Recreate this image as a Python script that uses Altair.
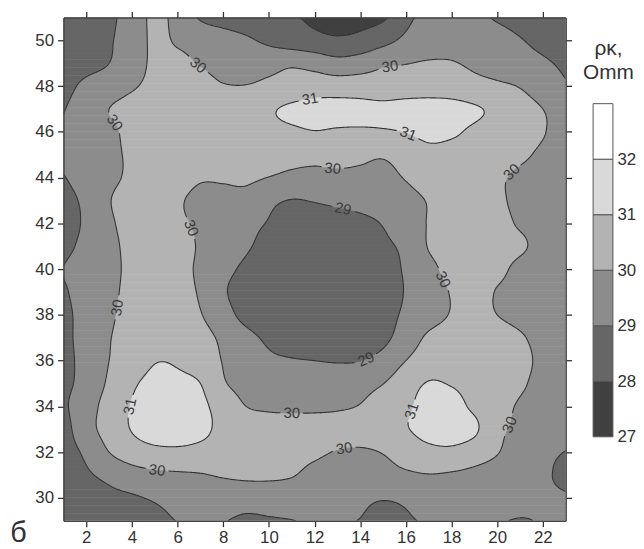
import numpy as np
import pandas as pd
import altair as alt

# ---------------- data: field values (x = 1..23, one row per y) ----------------
x_nodes = list(range(1, 24))
y_nodes = list(range(51, 28, -1))

r51 = [28.6, 28.75, 28.85, 29.4, 30.2, 29.7, 28.9, 28.6, 28.4, 28.25, 28.1, 27.8, 27.6, 27.65, 27.85, 28.75, 29.3, 29.4, 29.25, 28.9, 28.7, 28.6, 28.5]
r50 = [28.7, 28.85, 28.92, 29.5, 30.15, 29.9, 29.6, 29.4, 29.15, 28.8, 28.5, 28.3, 28.15, 28.3, 28.7, 29.2, 29.5, 29.7, 29.6, 29.35, 29.05, 28.8, 28.65]
r49 = [28.55, 28.75, 29.0, 29.6, 30.15, 30.2, 29.95, 29.75, 29.65, 29.7, 29.85, 29.65, 29.35, 29.5, 29.85, 29.97, 30.08, 30.05, 29.85, 29.6, 29.35, 29.12, 28.85]
r48 = [28.7, 29.2, 29.5, 29.9, 30.2, 30.3, 30.25, 30.05, 30.03, 30.2, 30.35, 30.5, 30.5, 30.5, 30.45, 30.5, 30.55, 30.5, 30.3, 30.15, 29.95, 29.5, 29.1]
r47 = [28.95, 29.5, 30.0, 30.3, 30.45, 30.5, 30.55, 30.6, 30.7, 30.9, 31.15, 31.3, 31.3, 31.25, 31.2, 31.3, 31.35, 31.3, 31.1, 30.8, 30.4, 30.0, 29.6]
r46 = [29.15, 29.55, 29.8, 30.25, 30.4, 30.5, 30.55, 30.6, 30.65, 30.75, 30.85, 30.97, 30.9, 30.88, 30.92, 31.02, 31.2, 31.12, 30.85, 30.6, 30.35, 30.05, 29.65]
r45 = [29.3, 29.55, 29.85, 30.1, 30.3, 30.45, 30.5, 30.5, 30.45, 30.4, 30.3, 30.25, 30.3, 30.2, 30.1, 30.4, 30.75, 30.7, 30.55, 30.35, 30.15, 29.85, 29.55]
r44 = [28.95, 29.4, 29.8, 30.15, 30.35, 30.4, 30.1, 30.1, 30.15, 29.98, 29.8, 29.75, 29.8, 29.8, 29.75, 30.05, 30.35, 30.45, 30.35, 30.12, 29.85, 29.65, 29.5]
r43 = [28.7, 29.2, 29.95, 30.35, 30.4, 30.12, 29.75, 29.75, 29.7, 29.2, 28.97, 29.05, 29.2, 29.35, 29.5, 29.75, 30.05, 30.35, 30.4, 30.15, 29.8, 29.6, 29.5]
r42 = [28.6, 29.15, 29.85, 30.3, 30.4, 30.15, 29.85, 29.5, 29.25, 28.95, 28.7, 28.6, 28.6, 28.75, 29.05, 29.5, 30.05, 30.35, 30.45, 30.3, 29.9, 29.65, 29.5]
r41 = [28.75, 29.25, 29.75, 30.25, 30.45, 30.35, 29.9, 29.5, 29.1, 28.75, 28.55, 28.45, 28.45, 28.55, 28.85, 29.2, 30.05, 30.35, 30.5, 30.45, 30.15, 29.7, 29.5]
r40 = [29.02, 29.4, 29.75, 30.2, 30.4, 30.25, 29.85, 29.25, 28.85, 28.55, 28.4, 28.35, 28.35, 28.45, 28.7, 29.1, 29.75, 30.25, 30.45, 30.25, 29.75, 29.5, 29.45]
r39 = [28.9, 29.35, 29.78, 30.25, 30.45, 30.3, 29.9, 29.1, 28.7, 28.5, 28.35, 28.3, 28.3, 28.4, 28.65, 29.05, 29.6, 30.05, 30.35, 29.95, 29.7, 29.5, 29.45]
r38 = [28.8, 29.3, 29.85, 30.3, 30.5, 30.45, 30.05, 29.35, 28.75, 28.5, 28.35, 28.3, 28.3, 28.4, 28.7, 29.15, 29.65, 30.05, 30.25, 30.0, 29.75, 29.5, 29.4]
r37 = [28.8, 29.3, 29.95, 30.35, 30.6, 30.65, 30.35, 29.8, 29.25, 28.85, 28.6, 28.5, 28.5, 28.6, 28.8, 29.45, 30.15, 30.35, 30.45, 30.35, 30.1, 29.7, 29.45]
r36 = [28.8, 29.25, 30.0, 30.45, 30.95, 30.9, 30.55, 29.95, 29.45, 29.15, 29.05, 29.0, 28.95, 28.98, 29.3, 30.0, 30.5, 30.55, 30.6, 30.5, 30.25, 29.8, 29.5]
r35 = [28.8, 29.3, 30.15, 30.85, 31.25, 31.2, 31.0, 30.1, 29.7, 29.5, 29.4, 29.4, 29.45, 29.65, 29.98, 30.6, 31.05, 30.95, 30.75, 30.55, 30.15, 29.7, 29.45]
r34 = [28.85, 29.55, 30.4, 31.05, 31.45, 31.45, 31.2, 30.6, 30.0, 29.85, 29.82, 29.82, 29.87, 30.05, 30.5, 30.85, 31.3, 31.25, 30.85, 30.35, 29.9, 29.6, 29.45]
r33 = [28.6, 29.65, 30.35, 31.05, 31.45, 31.5, 31.25, 30.75, 30.6, 30.45, 30.4, 30.4, 30.45, 30.6, 30.8, 30.95, 31.3, 31.4, 31.15, 30.2, 29.85, 29.55, 29.4]
r32 = [28.5, 29.2, 30.0, 30.5, 30.75, 30.8, 30.7, 30.55, 30.4, 30.3, 30.25, 30.15, 29.95, 29.85, 30.05, 30.45, 30.75, 30.8, 30.5, 30.05, 29.55, 29.2, 28.98]
r31 = [28.3, 28.85, 29.25, 29.6, 29.8, 29.88, 29.95, 30.08, 30.15, 30.15, 30.05, 29.75, 29.55, 29.5, 29.65, 29.85, 29.97, 29.9, 29.75, 29.55, 29.3, 29.1, 28.85]
r30 = [28.15, 28.45, 28.75, 28.9, 29.1, 29.3, 29.4, 29.45, 29.45, 29.45, 29.45, 29.4, 29.3, 29.15, 29.05, 29.15, 29.4, 29.45, 29.4, 29.3, 29.2, 29.1, 29.05]
r29 = [28.0, 28.2, 28.4, 28.55, 28.75, 29.02, 29.15, 29.05, 28.8, 28.9, 28.98, 29.1, 29.05, 28.98, 28.75, 28.9, 29.1, 29.2, 29.15, 29.05, 28.97, 29.03, 29.05]

rows = [r51, r50, r49, r48, r47, r46, r45, r44, r43, r42, r41, r40,
        r39, r38, r37, r36, r35, r34, r33, r32, r31, r30, r29]

band_lo = [27, 28, 29, 30, 31, 32]
band_hi = [28, 29, 30, 31, 32, 33]
band_colors = ["#404040", "#666666", "#8c8c8c", "#b3b3b3", "#d9d9d9", "#ffffff"]
contour_levels = [28, 29, 30, 31]

lab_level = [30, 30, 31, 31, 30, 30, 29, 30, 30, 30, 30, 29, 31, 30, 31, 30, 30, 30]
lab_x = [6.9, 15.3, 11.8, 16.1, 3.2, 12.8, 13.2, 6.6, 20.6, 17.7, 3.4, 14.3, 3.9, 11.0, 16.3, 20.5, 5.1, 13.3]
lab_y = [48.9, 48.9, 47.5, 46.0, 46.4, 44.5, 42.5, 41.8, 44.3, 39.6, 38.3, 36.0, 34.0, 33.8, 33.8, 33.2, 31.4, 32.2]

x_ticks = list(range(2, 23, 2))
y_ticks = list(range(30, 51, 2))
cbar_ticks = [27, 28, 29, 30, 31, 32]

# ---------------- smooth the field for contouring ----------------
W, H = 507, 508


def cubic_resample(a, pos):
    n = a.shape[-1]
    pad = np.concatenate([2 * a[..., :1] - a[..., 1:2], a, 2 * a[..., -1:] - a[..., -2:-1]], axis=-1)
    i = np.clip(np.floor(pos).astype(int), 0, n - 2)
    t = pos - i
    w0 = -0.5 * t**3 + t**2 - 0.5 * t
    w1 = 1.5 * t**3 - 2.5 * t**2 + 1
    w2 = -1.5 * t**3 + 2 * t**2 + 0.5 * t
    w3 = 0.5 * t**3 - 0.5 * t**2
    return pad[..., i] * w0 + pad[..., i + 1] * w1 + pad[..., i + 2] * w2 + pad[..., i + 3] * w3


G = np.array(rows[::-1], dtype=float)  # y ascending
step = 0.05
gx = np.round(np.arange(x_nodes[0], x_nodes[-1] + step / 2, step), 4)
gy = np.round(np.arange(y_nodes[-1], y_nodes[0] + step / 2, step), 4)
F1 = cubic_resample(G, gx - x_nodes[0])
F = cubic_resample(F1.T, gy - y_nodes[-1]).T  # F[iy, ix]

# filled bands as horizontal runs
recs = []
for iy in range(len(gy) - 1):
    v = 0.5 * (F[iy] + F[iy + 1])
    b = np.clip(np.floor(v), 27, 32).astype(int)
    start = gx[0]
    for j in range(len(gx) - 1):
        if b[j] != b[j + 1]:
            L = max(b[j], b[j + 1])
            s = float(np.clip((L - v[j]) / (v[j + 1] - v[j]), 0, 1))
            xc = gx[j] + s * step
            recs.append((round(start, 3), round(xc, 3), gy[iy], round(gy[iy + 1] + 0.03, 3), int(b[j])))
            start = xc
    recs.append((round(start, 3), gx[-1], gy[iy], round(gy[iy + 1] + 0.03, 3), int(b[-1])))
fill_df = pd.DataFrame(recs, columns=["x0", "x1", "y0", "y1", "band"])


def march(L):
    A = F >= L
    c0 = A[:-1, :-1]; c1 = A[:-1, 1:]; c2 = A[1:, 1:]; c3 = A[1:, :-1]
    case = c0 * 1 + c1 * 2 + c2 * 4 + c3 * 8
    ii, jj = np.nonzero((case != 0) & (case != 15))
    adj = {}

    def link(a, b):
        adj.setdefault(a, []).append(b)
        adj.setdefault(b, []).append(a)

    for i, j in zip(ii, jj):
        k = case[i, j]
        B = ("h", i, j); T = ("h", i + 1, j); Lf = ("v", i, j); R = ("v", i, j + 1)
        if k in (5, 10):
            center = (F[i, j] + F[i, j + 1] + F[i + 1, j] + F[i + 1, j + 1]) / 4 >= L
            if (k == 5) == center:
                link(B, R); link(T, Lf)
            else:
                link(B, Lf); link(R, T)
        else:
            e = []
            if c0[i, j] != c1[i, j]: e.append(B)
            if c1[i, j] != c2[i, j]: e.append(R)
            if c2[i, j] != c3[i, j]: e.append(T)
            if c0[i, j] != c3[i, j]: e.append(Lf)
            link(e[0], e[1])

    def pt(key):
        t, i, j = key
        if t == "h":
            a, b = F[i, j], F[i, j + 1]
            s = (L - a) / (b - a)
            return (gx[j] + s * step, gy[i])
        a, b = F[i, j], F[i + 1, j]
        s = (L - a) / (b - a)
        return (gx[j], gy[i] + s * step)

    visited = set()
    paths = []
    starts = [k for k, v in adj.items() if len(v) == 1] + list(adj.keys())
    for s0 in starts:
        if s0 in visited:
            continue
        path = [s0]; visited.add(s0); cur = s0
        while True:
            nxt = [n for n in adj[cur] if n not in visited]
            if not nxt:
                if s0 in adj[cur] and len(path) > 2:
                    path.append(s0)
                break
            cur = nxt[0]; visited.add(cur); path.append(cur)
        paths.append(np.array([pt(k) for k in path]))
    return paths


sx, sy = W / 22.0, H / 22.0
line_rows = []
label_rows = []
pid = 0
for L in contour_levels:
    paths = march(L)
    labs = []
    for lv, lx, ly in zip(lab_level, lab_x, lab_y):
        if lv != L or not paths:
            continue
        best = None
        for p in paths:
            d = np.hypot(p[:, 0] - lx, p[:, 1] - ly)
            k = int(np.argmin(d))
            if best is None or d[k] < best[0]:
                best = (d[k], p, k)
        _, p, k = best
        a = p[max(k - 4, 0)]; b = p[min(k + 4, len(p) - 1)]
        ang = np.degrees(np.arctan2(-(b[1] - a[1]) * sy, (b[0] - a[0]) * sx))
        if ang > 90: ang -= 180
        if ang < -90: ang += 180
        cx, cy = p[k]
        labs.append((cx, cy))
        label_rows.append((round(cx, 3), round(cy, 3), str(L), round(ang % 360, 1)))
    for p in paths:
        keep = np.ones(len(p), bool)
        for cx, cy in labs:
            keep &= np.hypot((p[:, 0] - cx) * sx, (p[:, 1] - cy) * sy) > 11.5
        seg = []
        for q, kp in zip(p, keep):
            if kp:
                seg.append(q)
            else:
                if len(seg) > 1:
                    for o, (qx, qy) in enumerate(seg):
                        line_rows.append((round(qx, 3), round(qy, 3), pid, o))
                    pid += 1
                seg = []
        if len(seg) > 1:
            for o, (qx, qy) in enumerate(seg):
                line_rows.append((round(qx, 3), round(qy, 3), pid, o))
            pid += 1

line_df = pd.DataFrame(line_rows, columns=["x", "y", "pid", "ord"])
label_df = pd.DataFrame(label_rows, columns=["x", "y", "text", "angle"])

# ---------------- chart ----------------
FONT = "Liberation Sans"
TXT = "#333333"
xs = alt.Scale(domain=[1, 23], nice=False, zero=False)
ys = alt.Scale(domain=[29, 51], nice=False, zero=False)
cscale = alt.Scale(domain=band_lo, range=band_colors)

common = dict(grid=False, tickColor=TXT, tickSize=6, tickWidth=1.3, domainColor="#444444",
              domainWidth=1.5, labelFont=FONT, labelFontSize=17, labelColor=TXT, zindex=1)

x_bottom = alt.Axis(orient="bottom", values=x_ticks, labelPadding=3, title="б",
                    titleFont=FONT, titleFontSize=29, titleFontWeight="normal", titleColor=TXT,
                    titleX=-54.3, titleY=21, titleAlign="left", titleBaseline="alphabetic", **common)
y_left = alt.Axis(orient="left", values=y_ticks, labelPadding=4, title=None, **common)
x_top = alt.Axis(orient="top", values=x_ticks, labels=False, title=None, **common)
y_right = alt.Axis(orient="right", values=y_ticks, labels=False, title=None, **common)

fill = alt.Chart(fill_df).mark_rect(clip=True).encode(
    x=alt.X("x0:Q", scale=xs, axis=x_bottom),
    x2="x1:Q",
    y=alt.Y("y0:Q", scale=ys, axis=y_left),
    y2="y1:Q",
    color=alt.Color("band:O", scale=cscale, legend=None),
)

lines = alt.Chart(line_df).mark_line(color="#333333", strokeWidth=1.1, clip=True).encode(
    x=alt.X("x:Q", scale=xs, axis=x_top),
    y=alt.Y("y:Q", scale=ys, axis=y_right),
    detail="pid:N",
    order="ord:Q",
)

labels = alt.Chart(label_df).mark_text(font=FONT, fontSize=15, color="#3a3a3a",
                                       align="center", baseline="middle").encode(
    x=alt.X("x:Q", scale=xs, axis=None),
    y=alt.Y("y:Q", scale=ys, axis=None),
    text="text:N",
    angle=alt.Angle("angle:Q", scale=None),
)

main = alt.layer(fill, lines, labels).resolve_axis(x="independent", y="independent").properties(
    width=W, height=H)

cb_df = pd.DataFrame({"lo": band_lo, "hi": band_hi, "band": band_lo})
cbar = alt.Chart(cb_df).mark_rect(stroke="#555555", strokeWidth=1).encode(
    y=alt.Y("lo:Q", scale=alt.Scale(domain=[25.489, 34.552], nice=False, zero=False),
            axis=alt.Axis(orient="right", values=cbar_ticks, ticks=False, domain=False, grid=False,
                          labelPadding=4, labelFont=FONT, labelFontSize=17, labelColor=TXT,
                          title=["ρκ,", "Omm"], titleFont=FONT, titleFontSize=21,
                          titleFontWeight="normal", titleColor=TXT, titleAngle=0,
                          titleAlign="center", titleBaseline="alphabetic", titleX=-5.0,
                          titleY=37.6, titleLineHeight=24.4)),
    y2="hi:Q",
    color=alt.Color("band:O", scale=cscale, legend=None),
).properties(width=20, height=H)

chart = alt.hconcat(main, cbar, spacing=27.7, bounds="flush").properties(
    padding={"left": 1, "top": 0, "right": 0, "bottom": 0}
).configure_view(stroke=None)

chart.save("out.html", embed_options={"renderer": "svg", "actions": False})
